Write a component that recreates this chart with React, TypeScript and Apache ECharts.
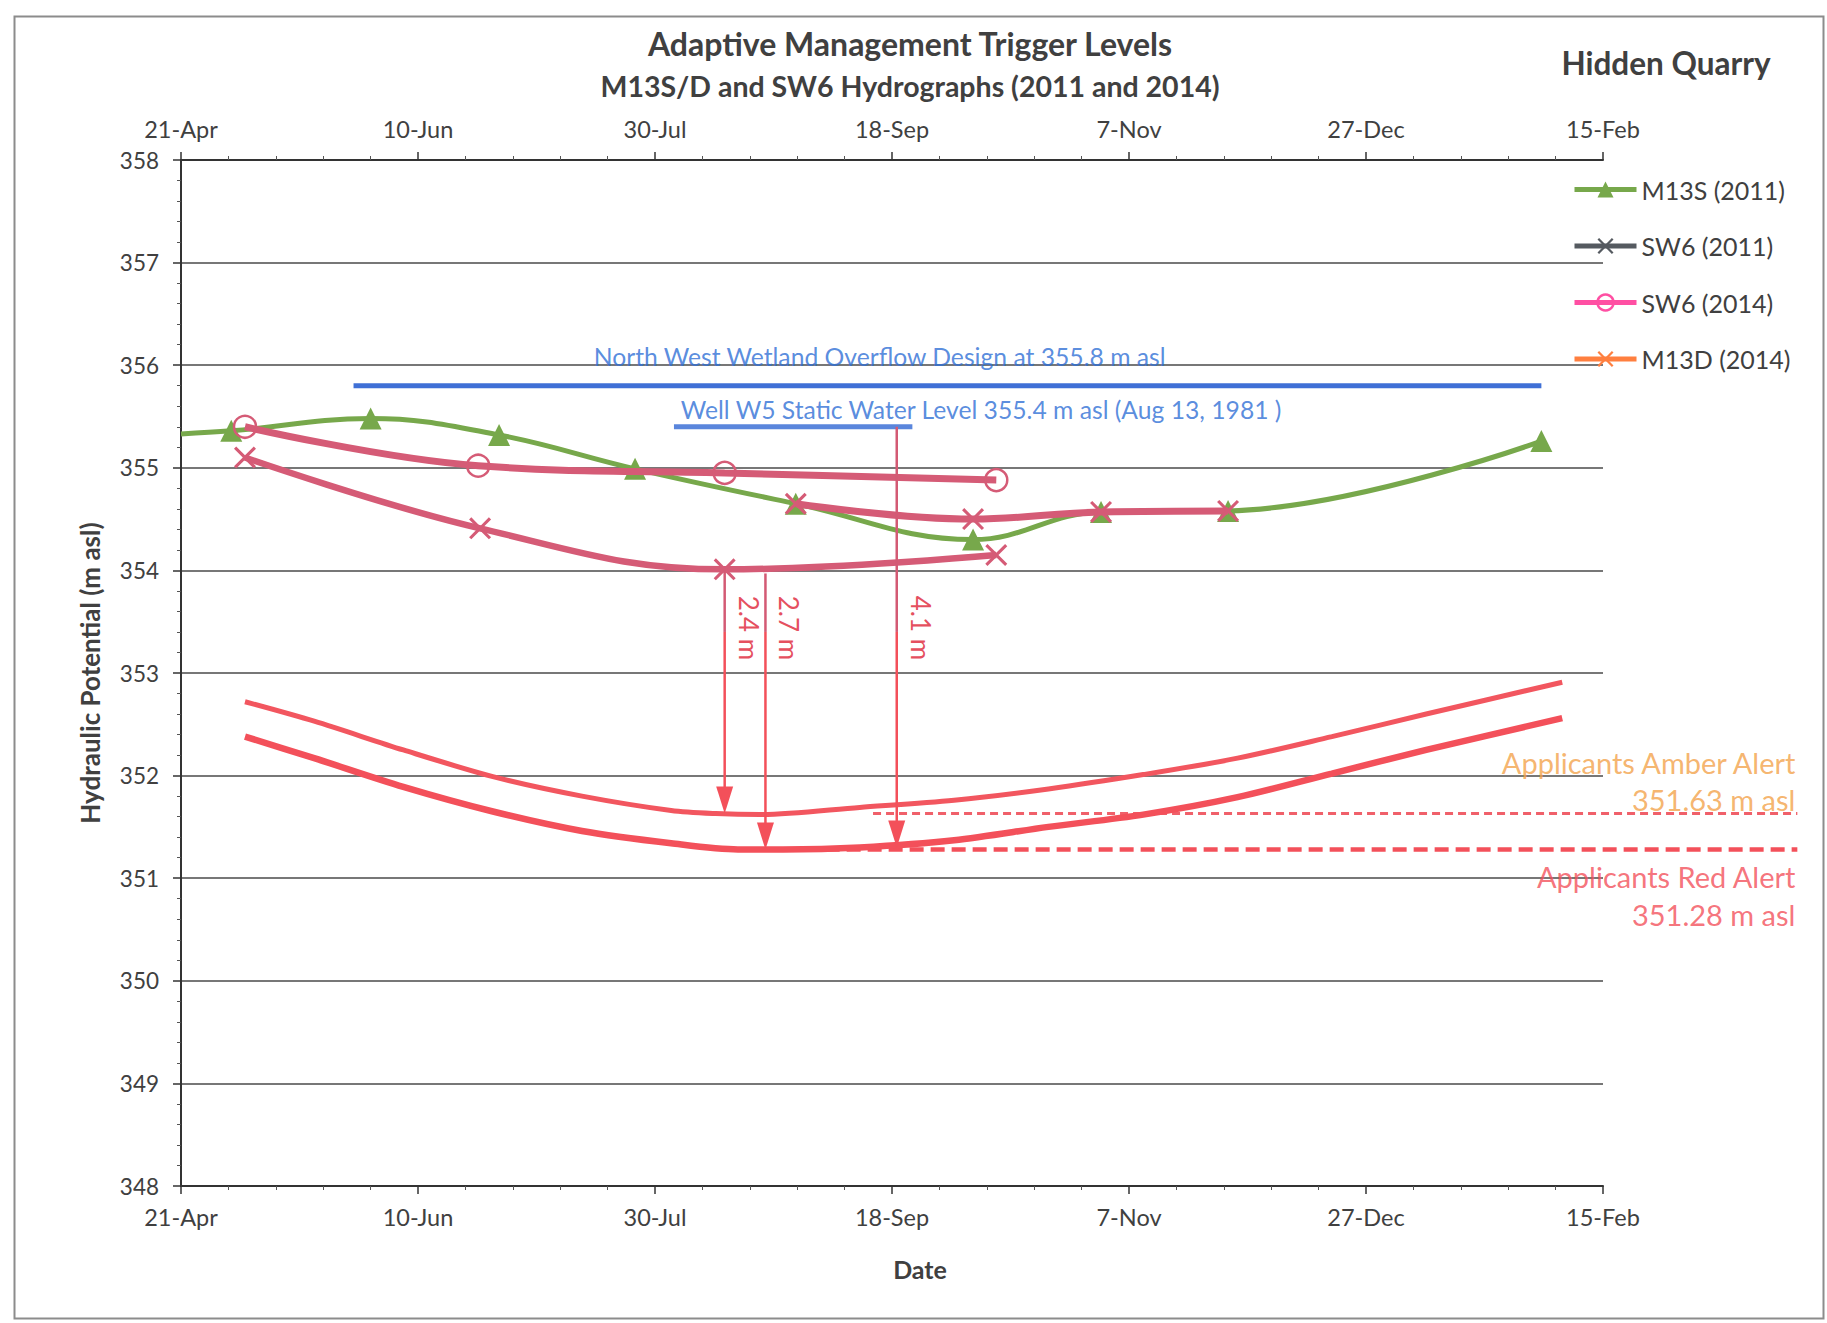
import React, { useEffect, useRef } from "react";
import * as echarts from "echarts";

// x = days after 21-Apr
const xTickLabels = ["21-Apr", "10-Jun", "30-Jul", "18-Sep", "7-Nov", "27-Dec", "15-Feb"];

const m13s2011Days = [0, 10.6, 40, 67.1, 95.8, 129.7, 167.1, 194.1, 220.9, 287];
const m13s2011Vals = [355.33, 355.36, 355.48, 355.32, 354.99, 354.65, 354.3, 354.57, 354.58, 355.26];

const sw62011Days = [129.7, 167.1, 194.1, 220.9];
const sw62011Vals = [354.65, 354.5, 354.57, 354.58];

const sw62014Days = [13.5, 62.7, 114.7, 172];
const sw62014Vals = [355.4, 355.02, 354.95, 354.88];

const m13d2014Days = [13.5, 63.1, 114.7, 172];
const m13d2014Vals = [355.1, 354.41, 354.01, 354.15];

const amberCurveDays = [13.5, 28.1, 46.9, 65.8, 84.6, 103.4, 112.8, 122.2, 143.2, 163.1, 183, 203, 222.9, 242.8, 262.7, 291.4];
const amberCurveVals = [352.72, 352.53, 352.25, 351.99, 351.8, 351.66, 351.63, 351.62, 351.69, 351.76, 351.87, 352.01, 352.17, 352.38, 352.6, 352.91];

const redCurveDays = [13.5, 28.1, 46.9, 65.8, 84.6, 103.4, 117.5, 127, 143.2, 163.1, 183, 203, 222.9, 242.8, 262.7, 291.4];
const redCurveVals = [352.38, 352.17, 351.89, 351.65, 351.46, 351.34, 351.28, 351.28, 351.3, 351.37, 351.5, 351.62, 351.79, 352.02, 352.25, 352.56];

const amberAlert = 351.63;
const redAlert = 351.28;
const amberDashDays = [146, 341];
const redDashDays = [136, 341];

const nwWetland = 355.8;
const nwWetlandDays = [36.4, 287];
const w5Level = 355.4;
const w5Days = [104, 154.3];

const arrowDays = [114.7, 123.3, 151];
const arrowFrom = [354.0, 353.97, 355.4];
const arrowTo = [351.63, 351.28, 351.3];
const arrowLabels = ["2.4 m", "2.7 m", "4.1 m"];

const seriesNames = ["M13S (2011)", "SW6 (2011)", "SW6 (2014)", "M13D (2014)"];
const annotationTexts = [
  "North West Wetland Overflow Design at 355.8 m asl",
  "Well W5 Static Water Level 355.4 m asl (Aug 13, 1981 )",
  "Applicants Amber Alert",
  "351.63 m asl",
  "Applicants Red Alert",
  "351.28 m asl",
];

const X_PATH = "path://M0,1 L1,0 L5,4 L9,0 L10,1 L6,5 L10,9 L9,10 L5,6 L1,10 L0,9 L4,5 Z";

const GREEN = "#77a84b";
const ROSY = "#d55b76";
const RED = "#f3505a";
const BLUE = "#3f70d6";
const AMBER_TXT = "#f3a24a";
const DARK = "#404040";
const FONT = "Lato";

const zip = (a: number[], b: number[]) => a.map((v, i) => [v, b[i]]);

const centerText = (x: number, y: number, text: string, font: string, fill: string) => ({
  type: "text",
  x,
  y,
  style: {
    text,
    fill,
    font,
    textAlign: "center",
    align: "center",
    textVerticalAlign: "middle",
    verticalAlign: "middle",
  },
});

const dashSeries = (name: string, days: number[], level: number, color: string, width: number, dash: number[]) => ({
  type: "custom",
  name,
  z: 3,
  silent: true,
  clip: false,
  encode: { x: [0, 1], y: 2 },
  data: [[days[0], days[1], level]],
  renderItem: (params: any, api: any) => {
    const a = api.coord([api.value(0), api.value(2)]);
    const b = api.coord([api.value(1), api.value(2)]);
    return {
      type: "line",
      shape: { x1: a[0], y1: a[1], x2: b[0], y2: b[1] },
      style: { stroke: color, lineWidth: width, lineDash: dash },
    };
  },
});

export default function App() {
  const ref = useRef<HTMLDivElement>(null);
  useEffect(() => {
    if (!ref.current) return;
    const chart = echarts.init(ref.current, null, { renderer: "svg" });

    const xAxisBase = {
      type: "value",
      min: 0,
      max: 300,
      interval: 50,
      axisLine: { show: true, lineStyle: { color: "#333", width: 2 } },
      axisTick: { show: true, length: 8, lineStyle: { color: "#333", width: 1.5 } },
      minorTick: { show: true, splitNumber: 5, length: 4, lineStyle: { color: "#555", width: 1 } },
      splitLine: { show: false },
      axisLabel: {
        fontSize: 23.5,
        color: DARK,
        margin: 19,
        formatter: (v: number) => xTickLabels[Math.round(v / 50)] ?? "",
      },
    };

    const lineCommon = { type: "line", smooth: 0.4, z: 3 };

    const option: any = {
      animation: false,
      backgroundColor: "#ffffff",
      textStyle: { fontFamily: FONT },
      grid: { left: 181, right: 224, top: 160, bottom: 137, containLabel: false },
      legend: {
        orient: "vertical",
        left: 1567,
        top: 172,
        itemWidth: 62,
        itemHeight: 20,
        itemGap: 31.5,
        selectedMode: false,
        textStyle: { fontSize: 25, color: DARK, fontFamily: FONT },
        data: [
          { name: seriesNames[0], itemStyle: { color: GREEN }, lineStyle: { color: GREEN, width: 5 } },
          { name: seriesNames[1], itemStyle: { color: "#555a60" }, lineStyle: { color: "#555a60", width: 5 } },
          {
            name: seriesNames[2],
            itemStyle: { color: "rgba(0,0,0,0)", borderColor: "#ff4fa3", borderWidth: 2.5 },
            lineStyle: { color: "#ff4fa3", width: 5 },
          },
          { name: seriesNames[3], itemStyle: { color: "#ff7f3f" }, lineStyle: { color: "#ff7f3f", width: 5 } },
        ],
      },
      xAxis: [
        { ...xAxisBase, position: "bottom" },
        { ...xAxisBase, position: "top" },
      ],
      yAxis: {
        type: "value",
        min: 348,
        max: 358,
        interval: 1,
        name: "Hydraulic Potential (m asl)",
        nameLocation: "middle",
        nameGap: 78,
        nameTextStyle: { fontSize: 26, fontWeight: "bold", color: DARK, fontFamily: FONT },
        axisLine: { show: true, lineStyle: { color: "#333", width: 2 } },
        axisTick: { show: true, length: 8, lineStyle: { color: "#333", width: 1.5 } },
        minorTick: { show: true, splitNumber: 5, length: 4, lineStyle: { color: "#555", width: 1 } },
        splitLine: { show: true, lineStyle: { color: "#4a4a4a", width: 1.5 } },
        axisLabel: { fontSize: 22.5, color: DARK, margin: 22 },
      },
      graphic: [
        {
          type: "rect",
          left: 12,
          top: 14,
          shape: { width: 1809, height: 1302 },
          style: { fill: "none", stroke: "#8c8c8c", lineWidth: 2 },
          z: -1,
        },
        centerText(910, 43, "Adaptive Management Trigger Levels", `bold 32px ${FONT}`, DARK),
        centerText(910, 86, "M13S/D and SW6 Hydrographs (2011 and 2014)", `bold 28.5px ${FONT}`, DARK),
        centerText(1666, 63, "Hidden Quarry", `bold 31.5px ${FONT}`, DARK),
        centerText(920, 1269, "Date", `bold 25px ${FONT}`, DARK),
      ],
      series: [
        {
          ...lineCommon,
          name: "NW Wetland",
          smooth: false,
          symbol: "none",
          lineStyle: { color: BLUE, width: 5 },
          data: nwWetlandDays.map((d) => [d, nwWetland]),
          z: 2,
        },
        {
          ...lineCommon,
          name: "W5",
          smooth: false,
          symbol: "none",
          lineStyle: { color: "#5a86dc", width: 5 },
          data: w5Days.map((d) => [d, w5Level]),
          z: 2,
        },
        {
          ...lineCommon,
          name: "Amber trigger",
          smooth: 0.3,
          symbol: "none",
          lineStyle: { color: "#f2565f", width: 5 },
          data: zip(amberCurveDays, amberCurveVals),
        },
        {
          ...lineCommon,
          name: "Red trigger",
          smooth: 0.3,
          symbol: "none",
          lineStyle: { color: RED, width: 6.5 },
          data: zip(redCurveDays, redCurveVals),
        },
        dashSeries("Amber level", amberDashDays, amberAlert, "#f0606a", 3, [8, 5]),
        dashSeries("Red level", redDashDays, redAlert, RED, 4.5, [14, 7]),
        {
          ...lineCommon,
          name: seriesNames[0],
          symbol: "triangle",
          symbolSize: 22,
          itemStyle: { color: GREEN },
          lineStyle: { color: GREEN, width: 5 },
          data: m13s2011Days.map((d, i) =>
            i === 0 ? { value: [d, m13s2011Vals[i]], symbol: "none" } : { value: [d, m13s2011Vals[i]] }
          ),
          z: 4,
        },
        {
          ...lineCommon,
          name: seriesNames[1],
          symbol: X_PATH,
          symbolSize: 22,
          itemStyle: { color: ROSY },
          lineStyle: { color: ROSY, width: 7 },
          data: zip(sw62011Days, sw62011Vals),
          z: 5,
        },
        {
          ...lineCommon,
          name: seriesNames[2],
          symbol: "circle",
          symbolSize: 22,
          itemStyle: { color: "rgba(0,0,0,0)", borderColor: ROSY, borderWidth: 2.5 },
          lineStyle: { color: ROSY, width: 7 },
          data: zip(sw62014Days, sw62014Vals),
          z: 5,
        },
        {
          ...lineCommon,
          name: seriesNames[3],
          symbol: X_PATH,
          symbolSize: 22,
          itemStyle: { color: ROSY },
          lineStyle: { color: ROSY, width: 6.5 },
          data: zip(m13d2014Days, m13d2014Vals),
          z: 5,
        },
        {
          type: "custom",
          name: "Arrows",
          z: 6,
          silent: true,
          encode: { x: 0, y: [1, 2] },
          data: arrowDays.map((d, i) => [d, arrowFrom[i], arrowTo[i], i]),
          renderItem: (params: any, api: any) => {
            const x = api.value(0);
            const y1 = api.value(1);
            const y2 = api.value(2);
            const idx = api.value(3);
            const p1 = api.coord([x, y1]);
            const pm = api.coord([x, 353.4]);
            const p2 = api.coord([x, y2]);
            const pl = api.coord([x, 353.44]);
            const head = 27;
            const hw = 8.5;
            return {
              type: "group",
              children: [
                {
                  type: "line",
                  shape: { x1: p1[0], y1: p1[1], x2: pm[0], y2: pm[1] },
                  style: { stroke: "#d35a74", lineWidth: 2.5 },
                },
                {
                  type: "line",
                  shape: { x1: pm[0], y1: pm[1], x2: p2[0], y2: p2[1] - head + 2 },
                  style: { stroke: RED, lineWidth: 2.5 },
                },
                {
                  type: "polygon",
                  shape: {
                    points: [
                      [p2[0] - hw, p2[1] - head],
                      [p2[0] + hw, p2[1] - head],
                      [p2[0], p2[1]],
                    ],
                  },
                  style: { fill: RED },
                },
                {
                  type: "text",
                  x: pl[0] + 24,
                  y: pl[1],
                  rotation: -Math.PI / 2,
                  style: {
                    text: arrowLabels[idx],
                    fill: "#e5505f",
                    font: `26px ${FONT}`,
                    textAlign: "center",
                    align: "center",
                    textVerticalAlign: "middle",
                    verticalAlign: "middle",
                  },
                },
              ],
            };
          },
        },
        {
          type: "scatter",
          name: "Annotations",
          symbolSize: 0,
          silent: true,
          clip: false,
          z: 7,
          data: [
            {
              value: [147.4, 356.08],
              label: { show: true, position: "inside", formatter: annotationTexts[0], color: "#2f6fd6", fontSize: 24.7 },
            },
            {
              value: [168.8, 355.57],
              label: { show: true, position: "inside", formatter: annotationTexts[1], color: "#2f6fd6", fontSize: 24.7 },
            },
            {
              value: [340.6, 352.13],
              label: { show: true, position: "left", distance: 0, formatter: annotationTexts[2], color: AMBER_TXT, fontSize: 29 },
            },
            {
              value: [340.6, 351.77],
              label: { show: true, position: "left", distance: 0, formatter: annotationTexts[3], color: AMBER_TXT, fontSize: 29 },
            },
            {
              value: [340.6, 351.02],
              label: { show: true, position: "left", distance: 0, formatter: annotationTexts[4], color: RED, fontSize: 29 },
            },
            {
              value: [340.6, 350.65],
              label: { show: true, position: "left", distance: 0, formatter: annotationTexts[5], color: RED, fontSize: 29 },
            },
          ],
        },
      ],
    };

    chart.setOption(option);
    return () => chart.dispose();
  }, []);

  return (
    <div
      ref={ref}
      style={{ position: "absolute", left: 0, top: 0, width: 1827, height: 1323, background: "#fff" }}
    />
  );
}
